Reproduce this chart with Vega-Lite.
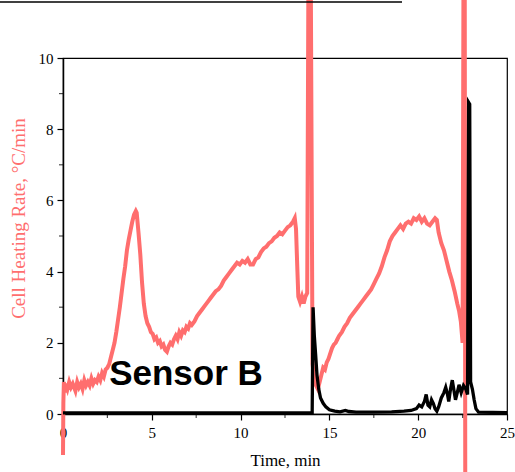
{
  "$schema": "https://vega.github.io/schema/vega-lite/v6.json",
  "autosize": {"type": "none"},
  "padding": {"left": 63, "top": 58, "right": 8, "bottom": 58},
  "width": 444,
  "height": 356,
  "background": "white",
  "config": {
    "view": {"stroke": "black", "strokeWidth": 1.2},
    "axis": {
      "domainColor": "black", "domainWidth": 1.5, "tickColor": "black", "tickWidth": 1.2,
      "labelFont": "Liberation Serif, serif", "labelColor": "black",
      "titleFont": "Liberation Serif", "titleFontSize": 17, "titleFontWeight": "normal",
      "grid": false
    }
  },
  "datasets": {
    "rate": [
      {"t": 0.0, "v": -1.15}, {"t": 0.02, "v": 0.3}, {"t": 0.05, "v": 0.9}, {"t": 0.1, "v": 0.6}, {"t": 0.15, "v": 0.85},
      {"t": 0.25, "v": 0.7}, {"t": 0.35, "v": 0.9}, {"t": 0.45, "v": 0.75}, {"t": 0.55, "v": 0.85}, {"t": 0.7, "v": 0.65},
      {"t": 0.8, "v": 0.9}, {"t": 0.9, "v": 0.75}, {"t": 1.0, "v": 0.85}, {"t": 1.1, "v": 0.7}, {"t": 1.2, "v": 0.95},
      {"t": 1.3, "v": 0.8}, {"t": 1.4, "v": 0.9}, {"t": 1.5, "v": 0.8}, {"t": 1.6, "v": 1.0}, {"t": 1.7, "v": 0.85},
      {"t": 1.8, "v": 0.95}, {"t": 1.9, "v": 0.9}, {"t": 2.0, "v": 1.05}, {"t": 2.1, "v": 0.95}, {"t": 2.2, "v": 1.15},
      {"t": 2.3, "v": 1.05}, {"t": 2.4, "v": 1.25}, {"t": 2.5, "v": 1.3}, {"t": 2.6, "v": 1.4}, {"t": 2.7, "v": 1.6},
      {"t": 2.8, "v": 1.8}, {"t": 2.9, "v": 2.0}, {"t": 3.0, "v": 2.3}, {"t": 3.1, "v": 2.65}, {"t": 3.2, "v": 3.0},
      {"t": 3.3, "v": 3.4}, {"t": 3.4, "v": 3.8}, {"t": 3.5, "v": 4.15}, {"t": 3.6, "v": 4.6}, {"t": 3.7, "v": 4.9},
      {"t": 3.8, "v": 5.15}, {"t": 3.9, "v": 5.4}, {"t": 4.0, "v": 5.6}, {"t": 4.1, "v": 5.7}, {"t": 4.15, "v": 5.65},
      {"t": 4.25, "v": 5.1}, {"t": 4.35, "v": 4.5}, {"t": 4.45, "v": 3.7}, {"t": 4.55, "v": 3.1}, {"t": 4.65, "v": 2.75},
      {"t": 4.75, "v": 2.55}, {"t": 4.85, "v": 2.45}, {"t": 4.95, "v": 2.3}, {"t": 5.05, "v": 2.25}, {"t": 5.15, "v": 2.1},
      {"t": 5.25, "v": 2.15}, {"t": 5.35, "v": 2.0}, {"t": 5.45, "v": 2.05}, {"t": 5.55, "v": 1.9}, {"t": 5.65, "v": 1.95},
      {"t": 5.75, "v": 1.8}, {"t": 5.85, "v": 1.75}, {"t": 5.95, "v": 1.9}, {"t": 6.05, "v": 2.0}, {"t": 6.15, "v": 1.95},
      {"t": 6.25, "v": 2.1}, {"t": 6.35, "v": 2.2}, {"t": 6.45, "v": 2.1}, {"t": 6.55, "v": 2.3}, {"t": 6.65, "v": 2.2},
      {"t": 6.75, "v": 2.35}, {"t": 6.85, "v": 2.3}, {"t": 6.95, "v": 2.45}, {"t": 7.05, "v": 2.4}, {"t": 7.15, "v": 2.55},
      {"t": 7.25, "v": 2.5}, {"t": 7.4, "v": 2.6}, {"t": 7.55, "v": 2.75}, {"t": 7.7, "v": 2.85}, {"t": 7.85, "v": 2.95},
      {"t": 8.0, "v": 3.05}, {"t": 8.15, "v": 3.15}, {"t": 8.3, "v": 3.25}, {"t": 8.45, "v": 3.35}, {"t": 8.6, "v": 3.45},
      {"t": 8.75, "v": 3.5}, {"t": 8.9, "v": 3.6}, {"t": 9.05, "v": 3.75}, {"t": 9.2, "v": 3.85}, {"t": 9.35, "v": 3.95},
      {"t": 9.5, "v": 4.05}, {"t": 9.65, "v": 4.15}, {"t": 9.8, "v": 4.25}, {"t": 9.95, "v": 4.2}, {"t": 10.1, "v": 4.3},
      {"t": 10.25, "v": 4.25}, {"t": 10.4, "v": 4.35}, {"t": 10.55, "v": 4.2}, {"t": 10.7, "v": 4.2}, {"t": 10.85, "v": 4.35},
      {"t": 11.0, "v": 4.4}, {"t": 11.15, "v": 4.55}, {"t": 11.3, "v": 4.65}, {"t": 11.45, "v": 4.7}, {"t": 11.6, "v": 4.8},
      {"t": 11.75, "v": 4.85}, {"t": 11.9, "v": 4.95}, {"t": 12.05, "v": 5.0}, {"t": 12.2, "v": 5.1}, {"t": 12.35, "v": 5.05},
      {"t": 12.5, "v": 5.15}, {"t": 12.65, "v": 5.25}, {"t": 12.8, "v": 5.3}, {"t": 12.95, "v": 5.4}, {"t": 13.05, "v": 5.5},
      {"t": 13.12, "v": 5.2}, {"t": 13.2, "v": 4.0}, {"t": 13.25, "v": 3.3}, {"t": 13.35, "v": 3.15}, {"t": 13.45, "v": 3.3},
      {"t": 13.55, "v": 3.1}, {"t": 13.65, "v": 3.3}, {"t": 13.75, "v": 3.4}, {"t": 13.82, "v": 12.5}, {"t": 13.95, "v": 12.5},
      {"t": 14.05, "v": 1.4}, {"t": 14.15, "v": 1.0}, {"t": 14.25, "v": 0.8}, {"t": 14.35, "v": 0.7}, {"t": 14.45, "v": 0.9},
      {"t": 14.55, "v": 1.1}, {"t": 14.65, "v": 1.3}, {"t": 14.75, "v": 1.25}, {"t": 14.85, "v": 1.45}, {"t": 14.95, "v": 1.55},
      {"t": 15.05, "v": 1.7}, {"t": 15.15, "v": 1.85}, {"t": 15.25, "v": 1.95}, {"t": 15.35, "v": 2.0}, {"t": 15.45, "v": 2.1},
      {"t": 15.55, "v": 2.2}, {"t": 15.7, "v": 2.3}, {"t": 15.85, "v": 2.45}, {"t": 16.0, "v": 2.55}, {"t": 16.15, "v": 2.7},
      {"t": 16.3, "v": 2.8}, {"t": 16.45, "v": 2.9}, {"t": 16.6, "v": 3.0}, {"t": 16.75, "v": 3.1}, {"t": 16.9, "v": 3.2},
      {"t": 17.05, "v": 3.3}, {"t": 17.2, "v": 3.4}, {"t": 17.35, "v": 3.5}, {"t": 17.5, "v": 3.65}, {"t": 17.65, "v": 3.8},
      {"t": 17.8, "v": 3.95}, {"t": 17.95, "v": 4.15}, {"t": 18.1, "v": 4.4}, {"t": 18.25, "v": 4.6}, {"t": 18.4, "v": 4.85},
      {"t": 18.55, "v": 5.0}, {"t": 18.7, "v": 5.1}, {"t": 18.85, "v": 5.2}, {"t": 19.0, "v": 5.3}, {"t": 19.15, "v": 5.2},
      {"t": 19.3, "v": 5.35}, {"t": 19.45, "v": 5.4}, {"t": 19.6, "v": 5.35}, {"t": 19.75, "v": 5.5}, {"t": 19.9, "v": 5.45},
      {"t": 20.05, "v": 5.55}, {"t": 20.2, "v": 5.4}, {"t": 20.35, "v": 5.5}, {"t": 20.5, "v": 5.35}, {"t": 20.65, "v": 5.3},
      {"t": 20.8, "v": 5.4}, {"t": 20.95, "v": 5.5}, {"t": 21.05, "v": 5.45}, {"t": 21.15, "v": 5.1}, {"t": 21.3, "v": 4.8},
      {"t": 21.45, "v": 4.6}, {"t": 21.6, "v": 4.3}, {"t": 21.75, "v": 4.0}, {"t": 21.9, "v": 3.75}, {"t": 22.05, "v": 3.45},
      {"t": 22.2, "v": 3.1}, {"t": 22.3, "v": 2.9}, {"t": 22.4, "v": 2.6}, {"t": 22.5, "v": 2.0}, {"t": 22.55, "v": 12.5},
      {"t": 22.62, "v": 12.5}, {"t": 22.65, "v": -2.0}
    ],
    "sensor": [
      {"t": 0, "v": 0.03}, {"t": 14.03, "v": 0.03}, {"t": 14.08, "v": 3.0}, {"t": 14.15, "v": 2.2}, {"t": 14.22, "v": 1.7},
      {"t": 14.3, "v": 1.1}, {"t": 14.4, "v": 0.7}, {"t": 14.5, "v": 0.45}, {"t": 14.65, "v": 0.3}, {"t": 14.8, "v": 0.2},
      {"t": 15.0, "v": 0.12}, {"t": 15.3, "v": 0.08}, {"t": 15.6, "v": 0.06}, {"t": 15.9, "v": 0.1}, {"t": 16.1, "v": 0.07},
      {"t": 16.5, "v": 0.05}, {"t": 17.5, "v": 0.05}, {"t": 18.5, "v": 0.06}, {"t": 19.2, "v": 0.08}, {"t": 19.6, "v": 0.1},
      {"t": 19.9, "v": 0.15}, {"t": 20.05, "v": 0.25}, {"t": 20.2, "v": 0.2}, {"t": 20.35, "v": 0.35}, {"t": 20.45, "v": 0.55},
      {"t": 20.55, "v": 0.25}, {"t": 20.65, "v": 0.2}, {"t": 20.75, "v": 0.4}, {"t": 20.85, "v": 0.3}, {"t": 20.95, "v": 0.15},
      {"t": 21.05, "v": 0.08}, {"t": 21.15, "v": 0.2}, {"t": 21.3, "v": 0.45}, {"t": 21.45, "v": 0.6}, {"t": 21.55, "v": 0.75},
      {"t": 21.65, "v": 0.55}, {"t": 21.72, "v": 0.35}, {"t": 21.82, "v": 0.7}, {"t": 21.92, "v": 0.95}, {"t": 22.0, "v": 0.7},
      {"t": 22.1, "v": 0.4}, {"t": 22.2, "v": 0.6}, {"t": 22.3, "v": 0.82}, {"t": 22.42, "v": 0.6}, {"t": 22.55, "v": 0.8},
      {"t": 22.68, "v": 0.7}, {"t": 22.78, "v": 0.55}, {"t": 22.84, "v": 8.75}, {"t": 22.9, "v": 8.7}, {"t": 22.95, "v": 0.9},
      {"t": 23.05, "v": 0.7}, {"t": 23.15, "v": 0.4}, {"t": 23.25, "v": 0.15}, {"t": 23.4, "v": 0.05}, {"t": 25, "v": 0.04}
    ],
    "label": [{"t": 2.6, "v": 0.81, "text": "Sensor B"}],
    "edge": [{"t": -3.55, "t2": 19.09, "v": 11.57}],
    "xminor": [{"t": 2.5}, {"t": 7.5}, {"t": 12.5}, {"t": 17.5}, {"t": 22.5}],
    "yminor": [{"v": 1}, {"v": 3}, {"v": 5}, {"v": 7}, {"v": 9}]
  },
  "layer": [
    {
      "data": {"name": "rate"},
      "mark": {"type": "line", "color": "#FF6E6E", "strokeWidth": 4, "clip": false},
      "encoding": {
        "x": {"field": "t", "type": "quantitative", "scale": {"domain": [0, 25], "nice": false},
          "axis": {"title": "Time, min", "values": [0, 5, 10, 15, 20, 25], "tickSize": 6,
            "labelFont": "Liberation Serif, serif", "labelFontSize": 15,
            "labelPadding": 5, "titlePadding": 12, "titleColor": "black", "titleFontSize": 17, "labelFlush": false}},
        "y": {"field": "v", "type": "quantitative", "scale": {"domain": [0, 10], "nice": false},
          "axis": {"title": "Cell Heating Rate, °C/min", "values": [0, 2, 4, 6, 8, 10], "tickSize": 6,
            "labelFont": "Liberation Serif, serif", "labelFontSize": 15,
            "labelPadding": 4, "titleColor": "#FF6E6E", "titleFontSize": 19, "titlePadding": 10, "titleY": 160}}
      }
    },
    {
      "data": {"name": "sensor"},
      "mark": {"type": "line", "color": "black", "strokeWidth": 3.3, "clip": false},
      "encoding": {
        "x": {"field": "t", "type": "quantitative"},
        "y": {"field": "v", "type": "quantitative"}
      }
    },
    {
      "data": {"name": "label"},
      "mark": {"type": "text", "font": "Liberation Sans", "fontWeight": "bold", "fontSize": 35, "align": "left", "baseline": "alphabetic", "color": "black"},
      "encoding": {
        "x": {"field": "t", "type": "quantitative"},
        "y": {"field": "v", "type": "quantitative"},
        "text": {"field": "text"}
      }
    },
    {
      "data": {"name": "edge"},
      "mark": {"type": "rule", "color": "black", "strokeWidth": 1.5, "clip": false},
      "encoding": {
        "x": {"field": "t", "type": "quantitative"},
        "x2": {"field": "t2"},
        "y": {"field": "v", "type": "quantitative"}
      }
    },
    {
      "data": {"name": "xminor"},
      "mark": {"type": "tick", "orient": "vertical", "color": "black", "size": 4, "thickness": 1.2, "yOffset": 2, "clip": false},
      "encoding": {
        "x": {"field": "t", "type": "quantitative"},
        "y": {"datum": 0, "type": "quantitative"}
      }
    },
    {
      "data": {"name": "yminor"},
      "mark": {"type": "tick", "orient": "horizontal", "color": "black", "size": 4, "thickness": 1.2, "xOffset": -2, "clip": false},
      "encoding": {
        "y": {"field": "v", "type": "quantitative"},
        "x": {"datum": 0, "type": "quantitative"}
      }
    }
  ]
}
